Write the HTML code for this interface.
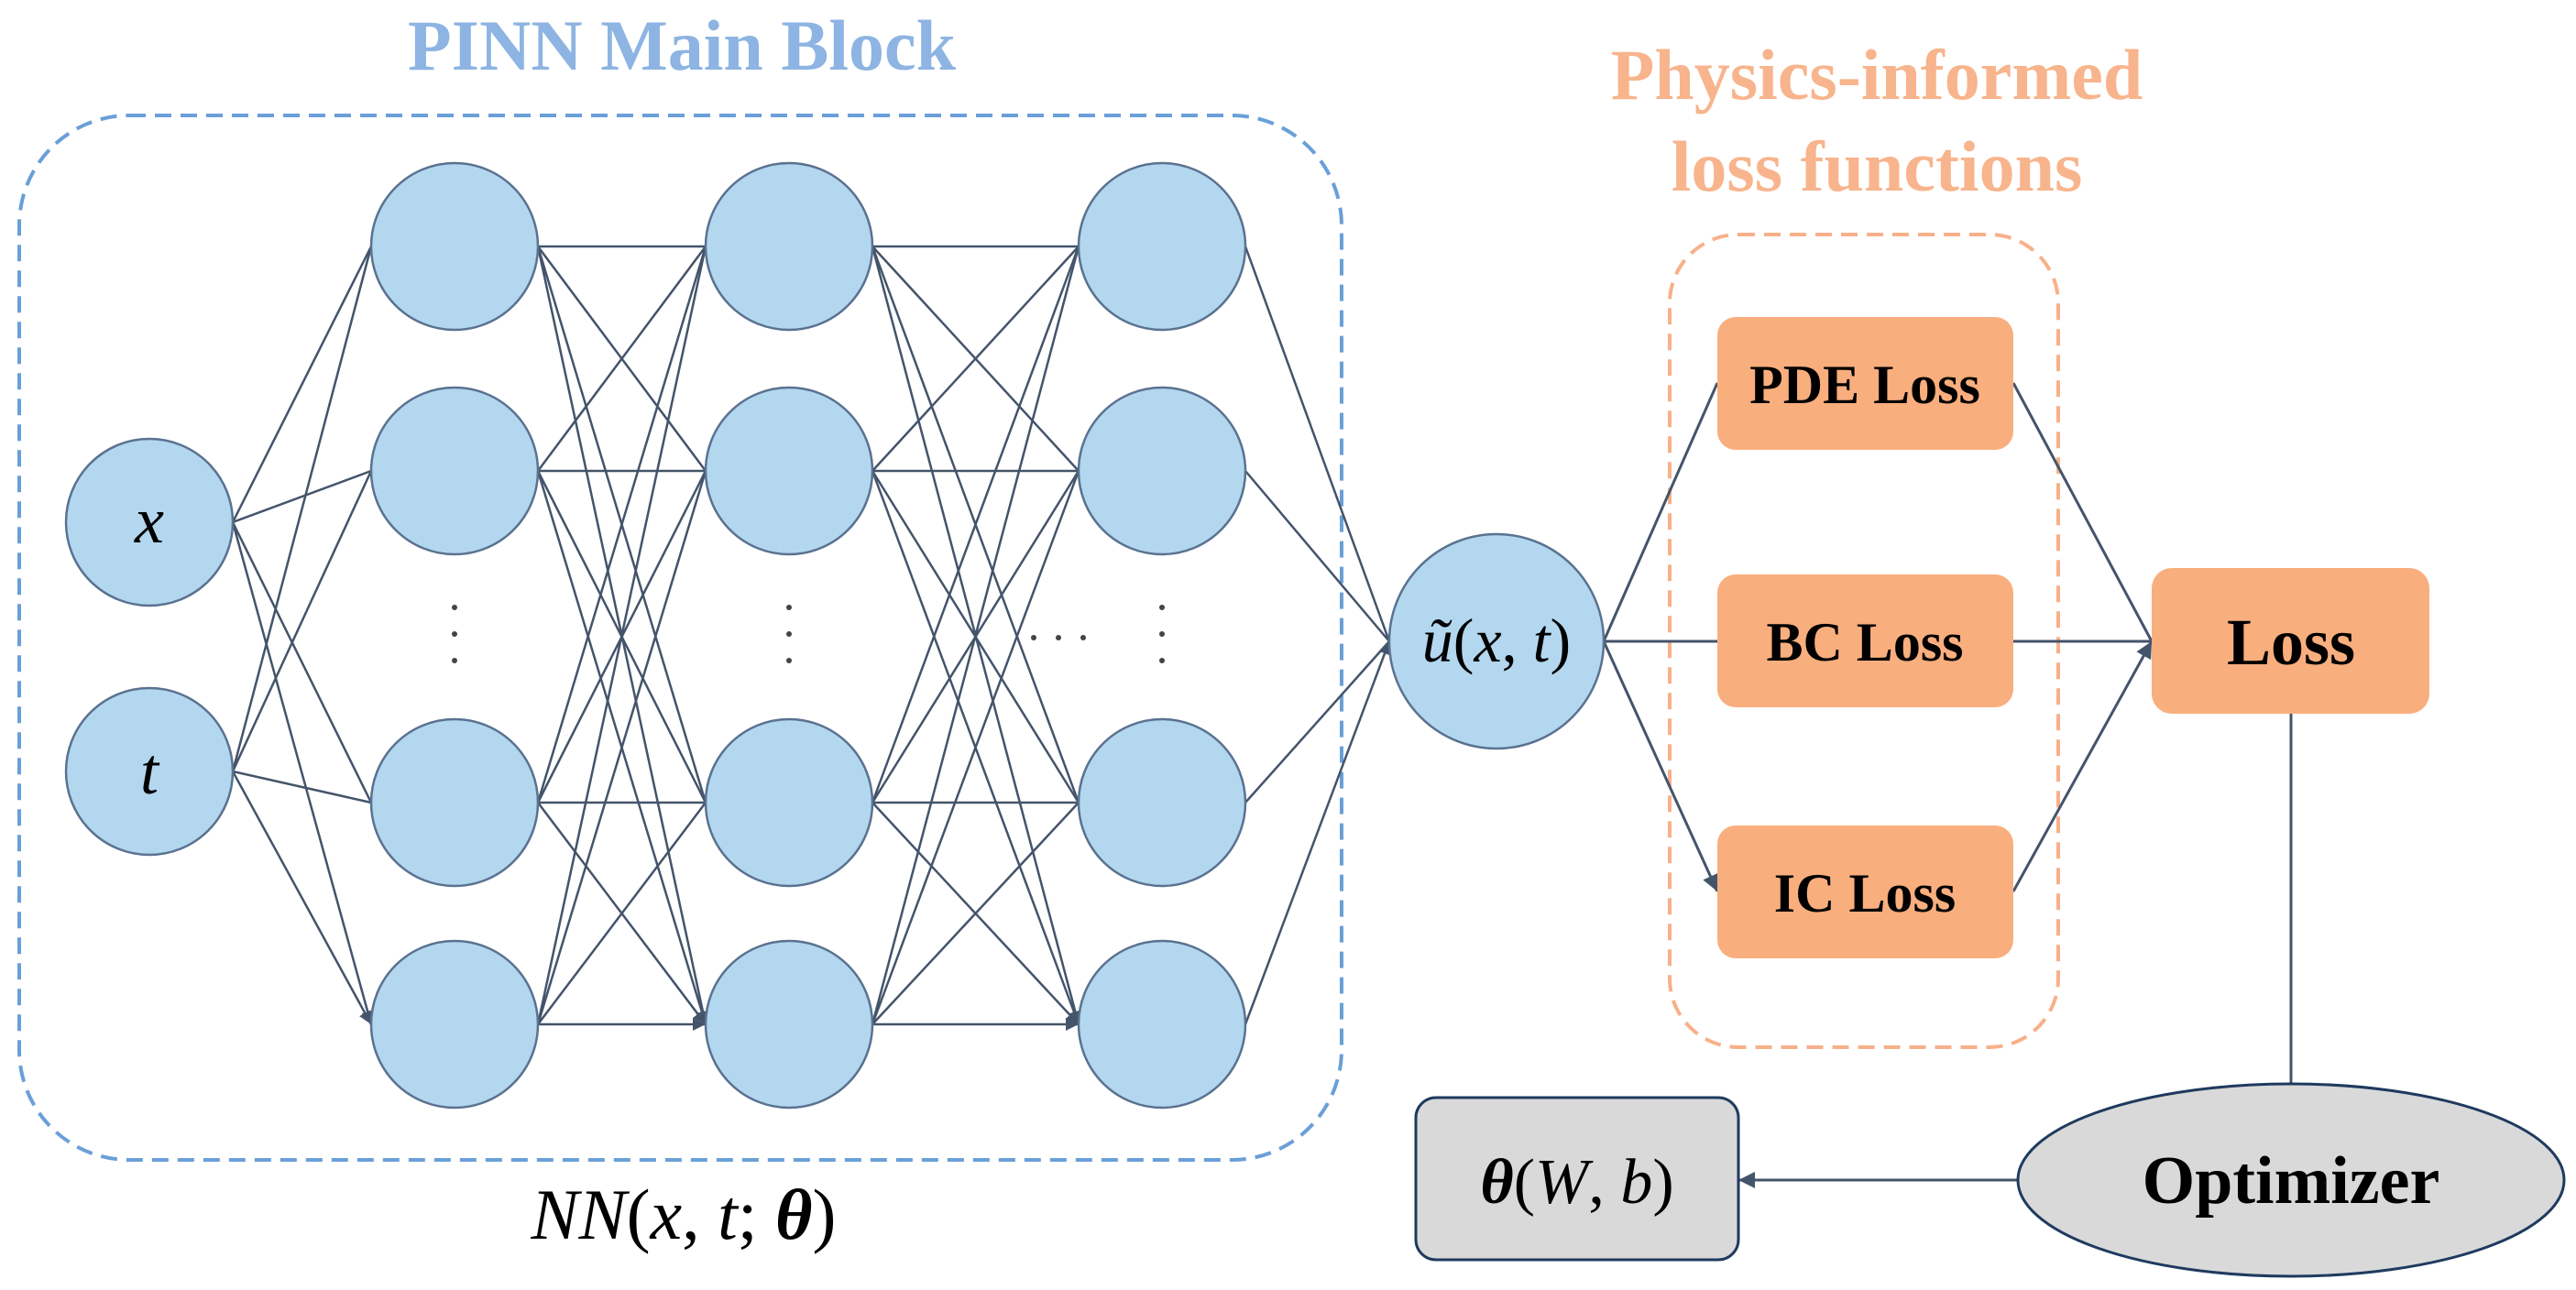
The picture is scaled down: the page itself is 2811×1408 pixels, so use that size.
<!DOCTYPE html>
<html><head><meta charset="utf-8"><style>
html,body{margin:0;padding:0;background:#fff;}
svg{display:block;font-family:"Liberation Serif","Times New Roman",serif;}
svg text{font-family:"Liberation Serif","Times New Roman",serif;}
</style></head><body>
<svg width="2811" height="1408" viewBox="0 0 2811 1408" xmlns="http://www.w3.org/2000/svg" font-family="Liberation Serif, Times New Roman, serif">
<defs>
<marker id="a" viewBox="0 0 10 10" refX="10" refY="5" markerWidth="16" markerHeight="14" markerUnits="userSpaceOnUse" orient="auto"><path d="M0,0 L10,5 L0,10 z" fill="#44546a"/></marker>
<marker id="b" viewBox="0 0 10 10" refX="10" refY="5" markerWidth="20" markerHeight="18" markerUnits="userSpaceOnUse" orient="auto"><path d="M0,0 L10,5 L0,10 z" fill="#44546a"/></marker>
</defs>
<text x="744" y="76" text-anchor="middle" font-size="78" font-weight="bold" fill="#8db4e2" font-family="Liberation Serif, serif">PINN Main Block</text>
<rect x="21" y="126" width="1443" height="1140" rx="120" fill="none" stroke="#6a9fd8" stroke-width="4" stroke-dasharray="18 10"/>
<text x="2048" y="108" text-anchor="middle" font-size="78" font-weight="bold" fill="#f8b48c" font-family="Liberation Serif, serif">Physics-informed</text>
<text x="2048" y="208" text-anchor="middle" font-size="78" font-weight="bold" fill="#f8b48c" font-family="Liberation Serif, serif">loss functions</text>
<rect x="1822" y="256" width="424" height="887" rx="75" fill="none" stroke="#f8b08a" stroke-width="4" stroke-dasharray="18 10"/>
<g stroke="#44546a" stroke-width="2.5" fill="none" marker-end="url(#a)">
<path d="M254 570L405 269M254 570L405 514M254 570L405 876M254 570L405 1118"/>
<path d="M254 842L405 269M254 842L405 514M254 842L405 876M254 842L405 1118"/>
<path d="M587 269L770 269M587 269L770 514M587 269L770 876M587 269L770 1118"/>
<path d="M587 514L770 269M587 514L770 514M587 514L770 876M587 514L770 1118"/>
<path d="M587 876L770 269M587 876L770 514M587 876L770 876M587 876L770 1118"/>
<path d="M587 1118L770 269M587 1118L770 514M587 1118L770 876M587 1118L770 1118"/>
<path d="M952 269L1177 269M952 269L1177 514M952 269L1177 876M952 269L1177 1118"/>
<path d="M952 514L1177 269M952 514L1177 514M952 514L1177 876M952 514L1177 1118"/>
<path d="M952 876L1177 269M952 876L1177 514M952 876L1177 876M952 876L1177 1118"/>
<path d="M952 1118L1177 269M952 1118L1177 514M952 1118L1177 876M952 1118L1177 1118"/>
<path d="M1359 269L1516 700M1359 514L1516 700M1359 876L1516 700M1359 1118L1516 700"/>
</g>
<g stroke="#44546a" stroke-width="3" fill="none" marker-end="url(#b)">
<path d="M1750 700L1874 418M1750 700L1874 700M1750 700L1874 973"/>
<path d="M2197 418L2348 700M2197 700L2348 700M2197 973L2348 700"/>
<path d="M2500 779L2500 1183M2202 1288L1897 1288"/>
</g>
<g fill="#b3d7ef" stroke="#5a7290" stroke-width="2.5">
<circle cx="163" cy="570" r="91"/><circle cx="163" cy="842" r="91"/>
<circle cx="496" cy="269" r="91"/><circle cx="496" cy="514" r="91"/><circle cx="496" cy="876" r="91"/><circle cx="496" cy="1118" r="91"/>
<circle cx="861" cy="269" r="91"/><circle cx="861" cy="514" r="91"/><circle cx="861" cy="876" r="91"/><circle cx="861" cy="1118" r="91"/>
<circle cx="1268" cy="269" r="91"/><circle cx="1268" cy="514" r="91"/><circle cx="1268" cy="876" r="91"/><circle cx="1268" cy="1118" r="91"/>
<circle cx="1633" cy="700" r="117"/>
</g>
<g fill="#444">
<circle cx="496" cy="663" r="3"/><circle cx="496" cy="692" r="3"/><circle cx="496" cy="721" r="3"/>
<circle cx="861" cy="663" r="3"/><circle cx="861" cy="692" r="3"/><circle cx="861" cy="721" r="3"/>
<circle cx="1268" cy="663" r="3"/><circle cx="1268" cy="692" r="3"/><circle cx="1268" cy="721" r="3"/>
<circle cx="1128" cy="696" r="3"/><circle cx="1155" cy="696" r="3"/><circle cx="1182" cy="696" r="3"/>
</g>
<text x="163" y="592" text-anchor="middle" font-size="72" font-style="italic" font-family="Liberation Serif, serif">x</text>
<text x="163" y="866" text-anchor="middle" font-size="72" font-style="italic" font-family="Liberation Serif, serif">t</text>
<text x="1633" y="722" text-anchor="middle" font-size="68" font-style="italic" font-family="Liberation Serif, serif">ũ<tspan font-style="normal">(</tspan>x<tspan font-style="normal">, </tspan>t<tspan font-style="normal">)</tspan></text>
<text x="746" y="1352" text-anchor="middle" font-size="78" font-style="italic" font-family="Liberation Serif, serif">NN<tspan font-style="normal">(</tspan>x<tspan font-style="normal">, </tspan>t<tspan font-style="normal">; </tspan><tspan font-weight="bold">θ</tspan><tspan font-style="normal">)</tspan></text>
<g fill="#f9ae7e">
<rect x="1874" y="346" width="323" height="145" rx="20"/>
<rect x="1874" y="627" width="323" height="145" rx="20"/>
<rect x="1874" y="901" width="323" height="145" rx="20"/>
<rect x="2348" y="620" width="303" height="159" rx="22"/>
</g>
<g font-weight="bold" text-anchor="middle" font-family="Liberation Serif, serif">
<text x="2035" y="440" font-size="60">PDE Loss</text>
<text x="2035" y="721" font-size="60">BC Loss</text>
<text x="2035" y="995" font-size="60">IC Loss</text>
<text x="2500" y="725" font-size="72">Loss</text>
</g>
<rect x="1545" y="1198" width="352" height="177" rx="22" fill="#d9d9d9" stroke="#1f3a5f" stroke-width="3"/>
<text x="1721" y="1313" text-anchor="middle" font-size="70" font-style="italic" font-family="Liberation Serif, serif"><tspan font-weight="bold">θ</tspan><tspan font-style="normal">(</tspan>W<tspan font-style="normal">, </tspan>b<tspan font-style="normal">)</tspan></text>
<ellipse cx="2500" cy="1288" rx="298" ry="105" fill="#d9d9d9" stroke="#1f3a5f" stroke-width="3"/>
<text x="2500" y="1313" text-anchor="middle" font-size="74" font-weight="bold" font-family="Liberation Serif, serif">Optimizer</text>
</svg>
</body></html>
